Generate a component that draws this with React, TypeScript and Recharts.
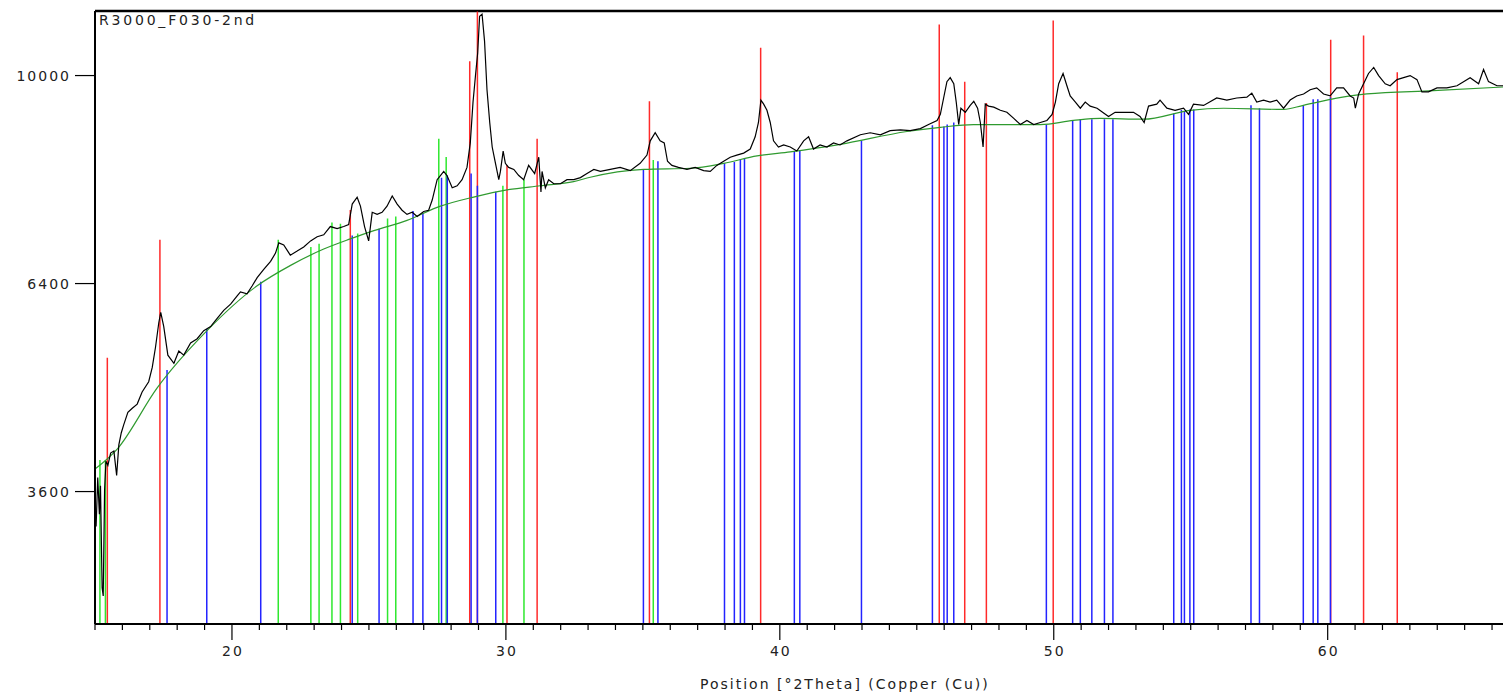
import { LineChart, Line, XAxis, YAxis, ReferenceLine } from "recharts";

// measured pattern, position [°2Theta] / counts
const pattern2Theta = [
  15.04, 15.1, 15.16, 15.2, 15.26, 15.3, 15.35, 15.4, 15.47, 15.57, 15.69, 15.79, 15.87, 15.96, 16.05, 16.2,
  16.36, 16.54, 16.72, 16.96, 17.09, 17.21, 17.33, 17.4, 17.51, 17.66, 17.88, 18.06, 18.24, 18.49, 18.73, 18.97,
  19.22, 19.46, 19.7, 19.95, 20.19, 20.31, 20.55, 20.74, 20.92, 21.16, 21.41, 21.59, 21.71, 21.89, 22.13, 22.38,
  22.62, 22.87, 23.11, 23.35, 23.59, 23.84, 24.08, 24.26, 24.39, 24.57, 24.69, 24.84, 24.99, 25.12, 25.3, 25.48,
  25.66, 25.85, 26.03, 26.21, 26.39, 26.58, 26.76, 27.0, 27.18, 27.31, 27.49, 27.61, 27.73, 27.85, 28.04, 28.22,
  28.4, 28.58, 28.7, 28.8, 28.89, 28.97, 29.04, 29.13, 29.22, 29.31, 29.41, 29.5, 29.62, 29.74, 29.8, 29.9,
  29.98, 30.1, 30.29, 30.47, 30.65, 30.83, 31.05, 31.2, 31.28, 31.32, 31.44, 31.56, 31.75, 31.99, 32.23, 32.48,
  32.72, 32.96, 33.21, 33.45, 33.81, 34.17, 34.54, 34.9, 35.15, 35.27, 35.45, 35.63, 35.78, 35.9, 36.06, 36.3,
  36.61, 36.91, 37.22, 37.46, 37.7, 37.95, 38.19, 38.43, 38.68, 38.92, 39.1, 39.22, 39.31, 39.41, 39.53, 39.65,
  39.77, 39.95, 40.14, 40.38, 40.62, 40.87, 41.05, 41.23, 41.47, 41.72, 41.96, 42.2, 42.45, 42.94, 43.3, 43.67,
  44.03, 44.4, 44.76, 45.13, 45.43, 45.74, 45.86, 45.98, 46.1, 46.22, 46.35, 46.44, 46.53, 46.61, 46.77, 46.95,
  47.08, 47.22, 47.32, 47.42, 47.5, 47.62, 47.81, 48.05, 48.29, 48.54, 48.78, 49.02, 49.27, 49.51, 49.75, 49.94,
  50.06, 50.18, 50.34, 50.48, 50.6, 50.79, 50.97, 51.15, 51.33, 51.58, 52.0, 52.24, 52.55, 52.91, 53.15, 53.3,
  53.46, 53.76, 53.88, 54.13, 54.43, 54.74, 54.92, 55.1, 55.47, 55.95, 56.32, 56.68, 57.05, 57.23, 57.41, 57.66,
  57.9, 58.14, 58.39, 58.63, 58.87, 59.12, 59.36, 59.6, 59.85, 60.09, 60.33, 60.58, 60.82, 60.95, 61.01, 61.13,
  61.31, 61.49, 61.68, 61.86, 62.1, 62.28, 62.53, 62.77, 63.01, 63.26, 63.44, 63.68, 63.99, 64.35, 64.72, 64.96,
  65.2, 65.51, 65.69, 65.87, 66.18, 66.41,
];
const patternCounts = [
  3207, 3763, 3342, 3667, 2576, 2496, 3619, 3958, 3909, 4058, 4082, 3787, 4158, 4311, 4414, 4572,
  4626, 4680, 4841, 4979, 5175, 5461, 5815, 5966, 5755, 5346, 5232, 5404, 5346, 5519, 5579, 5696,
  5755, 5875, 5995, 6087, 6211, 6273, 6242, 6366, 6492, 6619, 6747, 6877, 7041, 7008, 6844, 6909,
  6976, 7073, 7140, 7172, 7307, 7273, 7307, 7339, 7681, 7797, 7646, 7307, 7073, 7543, 7508, 7543,
  7646, 7818, 7681, 7578, 7508, 7543, 7475, 7557, 7578, 7749, 8098, 8169, 8241, 8169, 7958, 7993,
  8098, 8312, 8746, 9497, 10000, 10437, 11170, 11213, 10679, 9728, 9118, 8673, 8383, 8098, 8241, 8601,
  8383, 8312, 8276, 8169, 8098, 8347, 8205, 8492, 7887, 8241, 7958, 8098, 8028, 8028, 8098, 8098,
  8134, 8205, 8276, 8241, 8276, 8312, 8255, 8383, 8529, 8784, 8930, 8784, 8746, 8420, 8347, 8312,
  8276, 8312, 8255, 8241, 8347, 8420, 8492, 8529, 8564, 8636, 8857, 9118, 9534, 9458, 9343, 9118,
  8784, 8673, 8710, 8673, 8601, 8784, 8857, 8636, 8710, 8673, 8746, 8710, 8784, 8894, 8930, 8894,
  8968, 8982, 8968, 9006, 9080, 9155, 9268, 9573, 9883, 9960, 9843, 9497, 9080, 9382, 9306, 9434,
  9512, 9382, 9118, 8673, 9458, 9421, 9402, 9343, 9306, 9193, 9080, 9155, 9080, 9118, 9155, 9268,
  9497, 9843, 10040, 9805, 9612, 9497, 9382, 9497, 9421, 9382, 9229, 9306, 9306, 9306, 9229, 9118,
  9421, 9458, 9534, 9382, 9343, 9382, 9268, 9458, 9434, 9573, 9534, 9573, 9588, 9665, 9497, 9534,
  9497, 9534, 9382, 9534, 9612, 9649, 9728, 9765, 9649, 9612, 9765, 9765, 9612, 9573, 9382, 9649,
  9843, 10040, 10157, 10000, 9843, 9805, 9922, 9960, 10000, 9922, 9688, 9688, 9765, 9765, 9805, 9883,
  9960, 9843, 10118, 9883, 9805, 9805,
];

// fitted background
const background2Theta = [
  15.0, 15.81, 17.27, 19.09, 20.92, 22.14, 23.35, 24.32, 25.18, 26.39, 27.61, 28.82, 30.04, 31.26, 32.47,
  33.08, 35.03, 36.73, 37.95, 39.17, 40.38, 42.21, 44.64, 45.86, 47.07, 48.29, 49.51, 50.72, 51.7, 53.28,
  54.98, 56.2, 58.39, 59.11, 60.82, 61.43, 63.86, 66.4,
];
const backgroundCounts = [
  3864, 4107, 4896, 5696, 6366, 6683, 6942, 7106, 7240, 7408, 7646, 7799, 7923, 7993, 8064,
  8140, 8276, 8297, 8383, 8514, 8586, 8720, 8953, 9029, 9080, 9080, 9080, 9155, 9192, 9178,
  9343, 9381, 9359, 9435, 9612, 9649, 9712, 9781,
];

// reference patterns (stick positions / top)
const redPos = [15.45, 17.37, 24.32, 28.68, 28.96, 30.04, 31.14, 35.24, 39.3, 45.82, 46.75, 47.54, 49.98, 60.11, 61.31, 62.54];
const redTop = [5311, 7093, 7581, 10277, 11270, 8348, 8820, 9512, 10540, 11005, 9883, 9480, 11088, 10702, 10785, 10064];

const greenPos = [15.18, 15.38, 21.69, 22.88, 23.18, 23.65, 23.96, 24.59, 25.68, 25.98, 27.55, 27.82, 29.89, 30.66, 35.38];
const greenTop = [3973, 3973, 7093, 6974, 7027, 7374, 7353, 7193, 7441, 7475, 8820, 8494, 7993, 8098, 8441];

const bluePos = [
  17.63, 19.08, 21.05, 24.39, 25.37, 26.61, 26.97, 27.65, 27.86, 28.73, 28.96, 29.63, 35.02, 35.55, 37.98, 38.34,
  38.56, 38.71, 40.53, 40.73, 42.98, 45.57, 45.99, 46.11, 46.35, 49.73, 50.69, 50.97, 51.39, 51.85, 52.16, 54.38,
  54.66, 54.77, 54.97, 55.11, 57.2, 57.51, 59.11, 59.47, 59.64, 60.1,
];
const blueTop = [
  5138, 5719, 6429, 7160, 7273, 7564, 7531, 8133, 8169, 8205, 7993, 7889, 8276, 8420, 8383, 8405,
  8455, 8469, 8601, 8601, 8784, 9065, 9044, 9080, 9118, 9080, 9155, 9178, 9178, 9178, 9178, 9283,
  9347, 9328, 9359, 9359, 9435, 9381, 9435, 9549, 9549, 9589,
];

const yTicks = [3600, 6400, 10000];
const xMin = 15;
const xMax = 66.4;
const yMin = 2234;
const yMax = 11280;
const xTicks = Array.from({ length: 52 }, (_, i) => 15 + i);

const FONT = "'DejaVu Sans', sans-serif";

const patternData = pattern2Theta.map((t, i) => ({ t, c: patternCounts[i] }));
const backgroundData = background2Theta.map((t, i) => ({ t, c: backgroundCounts[i] }));

function XTick({ x, y, payload }: any) {
  const v = payload.value;
  const major = v % 10 === 0;
  return (
    <g>
      <line x1={x} x2={x} y1={y} y2={y + (major ? 16 : 6)} stroke="#000" strokeWidth={1.2} />
      {major && (
        <text x={x + 1} y={y + 32} textAnchor="middle" fontSize={14} fontFamily={FONT} letterSpacing={2} fill="#222">
          {v}
        </text>
      )}
    </g>
  );
}

function YTick({ x, y, payload }: any) {
  return (
    <g>
      <line x1={x - 20} x2={x} y1={y} y2={y} stroke="#000" strokeWidth={1.2} />
      <text x={x - 24} y={y + 5} textAnchor="end" fontSize={14} fontFamily={FONT} letterSpacing={2} fill="#222">
        {payload.value}
      </text>
    </g>
  );
}

function sticks(pos: number[], top: number[], color: string, key: string) {
  return pos.map((p, i) => (
    <ReferenceLine
      key={key + i}
      segment={[
        { x: p, y: yMin },
        { x: p, y: top[i] },
      ]}
      stroke={color}
      strokeWidth={1.5}
      ifOverflow="visible"
    />
  ));
}

export default function App() {
  return (
    <div style={{ position: "absolute", left: 0, top: 0, width: 1503, height: 695, background: "#fff", fontFamily: FONT }}>
      <LineChart width={1503} height={695} margin={{ top: 11, right: 0, bottom: 0, left: 0 }}>
        <XAxis
          dataKey="t"
          type="number"
          domain={[xMin, xMax]}
          allowDataOverflow
          ticks={xTicks}
          interval={0}
          height={71}
          tickSize={0}
          tickMargin={0}
          tickLine={false}
          tick={<XTick />}
          axisLine={{ stroke: "#000", strokeWidth: 2 }}
        />
        <YAxis
          type="number"
          scale="sqrt"
          domain={[yMin, yMax]}
          allowDataOverflow
          ticks={yTicks}
          interval={0}
          width={95}
          tickSize={0}
          tickMargin={0}
          tickLine={false}
          tick={<YTick />}
          axisLine={{ stroke: "#000", strokeWidth: 2 }}
        />
        <ReferenceLine y={yMax} stroke="#000" strokeWidth={2.5} />
        {sticks(redPos, redTop, "#ff2a2a", "r")}
        {sticks(greenPos, greenTop, "#2ee82e", "g")}
        {sticks(bluePos, blueTop, "#2323ff", "b")}
        <Line
          data={backgroundData}
          dataKey="c"
          type="monotone"
          stroke="#2f9a2f"
          strokeWidth={1.2}
          dot={false}
          activeDot={false}
          isAnimationActive={false}
        />
        <Line
          data={patternData}
          dataKey="c"
          type="linear"
          stroke="#000"
          strokeWidth={1.2}
          dot={false}
          activeDot={false}
          isAnimationActive={false}
        />
      </LineChart>
      <div style={{ position: "absolute", left: 99, top: 12, fontSize: 14, letterSpacing: 2.8, color: "#222", lineHeight: "16px" }}>
        R3000_F030-2nd
      </div>
      <div style={{ position: "absolute", left: 700, top: 676, fontSize: 14, letterSpacing: 2, color: "#222", lineHeight: "16px" }}>
        Position [°2Theta] (Copper (Cu))
      </div>
    </div>
  );
}
